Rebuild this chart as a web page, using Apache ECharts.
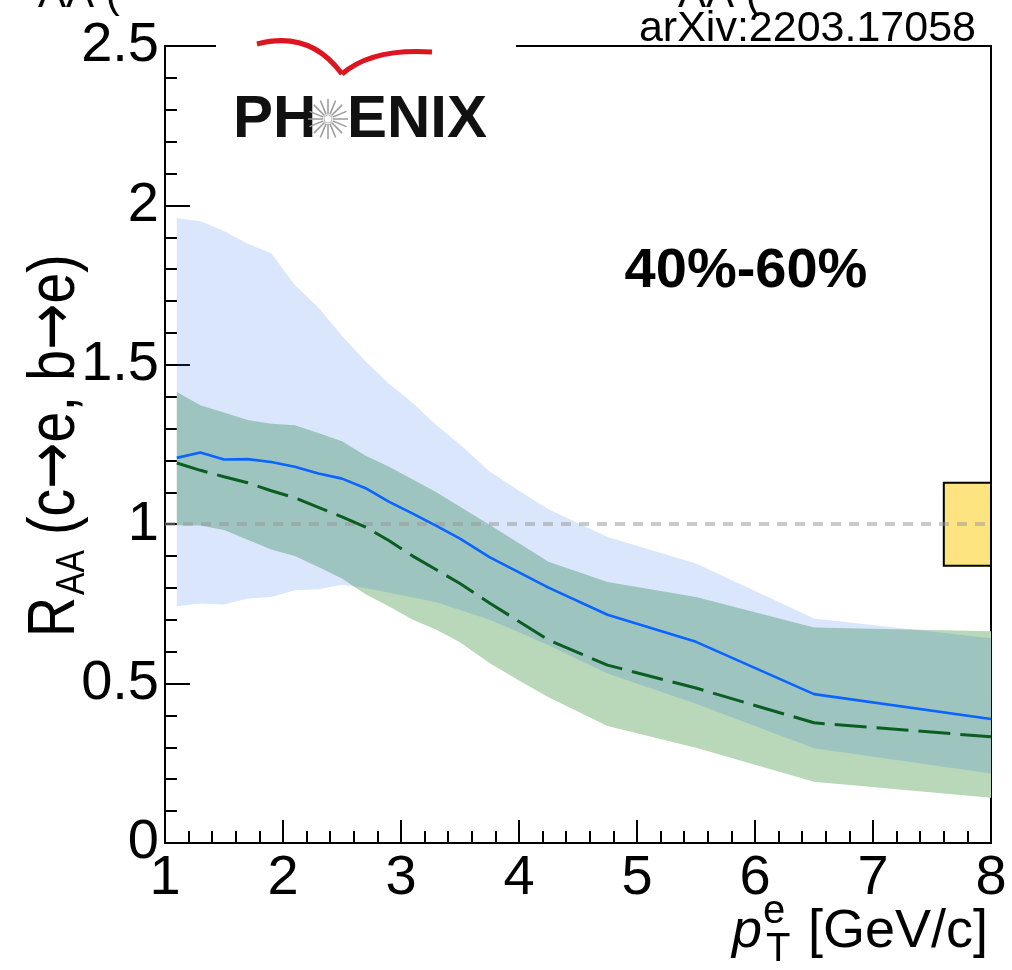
<!DOCTYPE html>
<html>
<head>
<meta charset="utf-8">
<script src="https://cdn.jsdelivr.net/npm/echarts@6/dist/echarts.min.js"></script>
<style>
  html, body { margin: 0; padding: 0; background: #fff; }
  #chart { width: 1012px; height: 970px; }
</style>
</head>
<body>
<div id="chart"></div>
<script>
// ---- data ----
const ptGrid = [1.1, 1.3, 1.5, 1.7, 1.9, 2.1, 2.3, 2.5, 2.7, 2.9, 3.1, 3.3, 3.5, 3.75, 4.0, 4.25, 4.75, 5.5, 6.5, 8.0];
const blueCentral = [1.208, 1.225, 1.203, 1.204, 1.195, 1.18, 1.159, 1.143, 1.113, 1.07, 1.033, 0.995, 0.955, 0.897, 0.849, 0.801, 0.716, 0.631, 0.467, 0.389];
const blueUpper   = [1.96, 1.95, 1.92, 1.88, 1.85, 1.75, 1.68, 1.59, 1.51, 1.44, 1.38, 1.31, 1.25, 1.165, 1.105, 1.047, 0.96, 0.877, 0.704, 0.642];
const blueLower   = [0.743, 0.751, 0.748, 0.767, 0.772, 0.793, 0.796, 0.81, 0.80, 0.785, 0.77, 0.755, 0.731, 0.70, 0.661, 0.62, 0.532, 0.437, 0.297, 0.218];
const greenCentral = [1.192, 1.169, 1.149, 1.13, 1.105, 1.083, 1.053, 1.023, 0.991, 0.948, 0.90, 0.857, 0.814, 0.753, 0.695, 0.637, 0.558, 0.486, 0.377, 0.333];
const greenUpper  = [1.415, 1.373, 1.35, 1.327, 1.315, 1.31, 1.286, 1.26, 1.215, 1.18, 1.14, 1.10, 1.055, 0.998, 0.94, 0.882, 0.819, 0.772, 0.676, 0.664];
const greenLower  = [0.997, 0.996, 0.982, 0.951, 0.921, 0.90, 0.866, 0.83, 0.78, 0.742, 0.70, 0.669, 0.63, 0.565, 0.51, 0.457, 0.367, 0.299, 0.192, 0.142];
const unityLevel = 1;
const normUnc = 0.13;
const normBoxX = [7.6, 8.0];
const xRange = [1, 8];
const yRange = [0, 2.5];
const centralityLabel = '40%-60%';
const refLabel = 'arXiv:2203.17058';

const FONT = 'Liberation Sans';

function pairs(xs, ys) { return xs.map((x, i) => [x, ys[i]]); }

function bandSeries(upper, lower, color, z) {
  return {
    type: 'custom',
    z: z,
    silent: true,
    data: [[ptGrid[0], upper[0]]],
    renderItem: function (params, api) {
      const pts = [];
      for (let i = 0; i < ptGrid.length; i++) pts.push(api.coord([ptGrid[i], upper[i]]));
      for (let i = ptGrid.length - 1; i >= 0; i--) pts.push(api.coord([ptGrid[i], lower[i]]));
      return { type: 'polygon', shape: { points: pts }, style: { fill: color } };
    }
  };
}

const starLines = [];
for (let k = 0; k < 16; k++) {
  const a = k * Math.PI / 8;
  starLines.push({ type: 'line', z: 53, shape: { x1: 328 + 5 * Math.cos(a), y1: 119 + 5 * Math.sin(a), x2: 328 + 20 * Math.cos(a), y2: 119 + 20 * Math.sin(a) }, style: { stroke: '#9a9a9a', lineWidth: 1.5 } });
}

const chart = echarts.init(document.getElementById('chart'), null, { renderer: 'canvas' });

const option = {
  backgroundColor: '#ffffff',
  animation: false,
  grid: { left: 165, right: 21, top: 46, bottom: 127, show: true, borderColor: '#000', borderWidth: 2, backgroundColor: 'transparent' },
  xAxis: {
    type: 'value', min: xRange[0], max: xRange[1], interval: 1,
    axisLine: { show: true, lineStyle: { color: '#000', width: 2 } },
    axisTick: { show: true, inside: true, length: 23, lineStyle: { color: '#000', width: 2 } },
    minorTick: { show: true, splitNumber: 5, length: 12, lineStyle: { color: '#000', width: 2 } },
    splitLine: { show: false },
    axisLabel: { color: '#000', fontFamily: FONT, fontSize: 56, margin: 8, showMinLabel: true, showMaxLabel: true }
  },
  yAxis: {
    type: 'value', min: yRange[0], max: yRange[1], interval: 0.5,
    axisLine: { show: true, lineStyle: { color: '#000', width: 2 } },
    axisTick: { show: true, inside: true, length: 25, lineStyle: { color: '#000', width: 2 } },
    minorTick: { show: true, splitNumber: 5, length: 12, lineStyle: { color: '#000', width: 2 } },
    splitLine: { show: false },
    axisLabel: { color: '#000', fontFamily: FONT, fontSize: 56, margin: 6, showMinLabel: true, showMaxLabel: true }
  },
  series: [
    bandSeries(greenUpper, greenLower, '#b9d7b9', 1),
    bandSeries(blueUpper, blueLower, 'rgba(32,108,232,0.17)', 2),
    {
      type: 'line', z: 3, silent: true, symbol: 'none',
      data: [],
      markArea: {
        silent: true,
        itemStyle: { color: '#fde480', borderColor: '#000', borderWidth: 2 },
        data: [[{ coord: [normBoxX[0], unityLevel - normUnc] }, { coord: [normBoxX[1], unityLevel + normUnc] }]]
      }
    },
    {
      type: 'line', z: 5, silent: true, symbol: 'none',
      data: pairs(ptGrid, blueCentral),
      lineStyle: { color: '#0a64ff', width: 2.6 }
    },
    {
      type: 'line', z: 6, silent: true, symbol: 'none',
      data: pairs(ptGrid, greenCentral),
      lineStyle: { color: '#0b5e22', width: 3, type: [32, 10] }
    },
    {
      type: 'line', z: 7, silent: true, symbol: 'none',
      data: [],
      markLine: {
        silent: true, symbol: 'none', label: { show: false },
        lineStyle: { color: 'rgba(150,150,150,0.5)', width: 4, type: [10, 8] },
        data: [{ yAxis: unityLevel }]
      }
    }
  ],
  graphic: [
    { type: 'text', z: 50, x: 38, y: -26, style: { text: 'AA (', font: '42px "Liberation Sans"', fill: '#000' } },
    { type: 'text', z: 50, x: 678, y: -26, style: { text: 'AA (', font: '42px "Liberation Sans"', fill: '#000' } },
    { type: 'text', z: 50, x: 976, y: 29, style: { text: refLabel, font: '43px "Liberation Sans"', fill: '#000', align: 'right', verticalAlign: 'middle' } },
    { type: 'rect', z: 50, shape: { x: 216, y: 32, width: 300, height: 118 }, style: { fill: '#fff' } },
    { type: 'text', z: 51, x: 233, y: 120, style: { text: 'PH', font: 'bold 60px "Liberation Sans"', fill: '#111', align: 'left', verticalAlign: 'middle' } },
    { type: 'text', z: 51, x: 347, y: 120, style: { text: 'ENIX', font: 'bold 60px "Liberation Sans"', fill: '#111', align: 'left', verticalAlign: 'middle' } },
    { type: 'group', z: 53, children: starLines },
    { type: 'circle', z: 54, shape: { cx: 328, cy: 119, r: 4 }, style: { fill: '#fff', stroke: '#bbb', lineWidth: 1 } },
    { type: 'bezierCurve', z: 52, shape: { x1: 257, y1: 44, cpx1: 310, cpy1: 30, x2: 342, y2: 74 }, style: { fill: null, stroke: '#dd1520', lineWidth: 5 } },
    { type: 'bezierCurve', z: 52, shape: { x1: 342, y1: 74, cpx1: 372, cpy1: 48, x2: 432, y2: 52 }, style: { fill: null, stroke: '#dd1520', lineWidth: 5 } },
    { type: 'text', z: 50, x: 746, y: 272, style: { text: centralityLabel, font: 'bold 56px "Liberation Sans"', fill: '#000', align: 'center', verticalAlign: 'middle' } },
    { type: 'text', z: 50, x: 988, y: 932, style: { text: '[GeV/c]', font: '54px "Liberation Sans"', fill: '#000', align: 'right', verticalAlign: 'middle' } },
    { type: 'text', z: 50, x: 762, y: 932, style: { text: 'p', font: 'italic 54px "Liberation Sans"', fill: '#000', align: 'right', verticalAlign: 'middle' } },
    { type: 'text', z: 50, x: 763, y: 912, style: { text: 'e', font: '40px "Liberation Sans"', fill: '#000', align: 'left', verticalAlign: 'middle' } },
    { type: 'text', z: 50, x: 766, y: 950, style: { text: 'T', font: '40px "Liberation Sans"', fill: '#000', align: 'left', verticalAlign: 'middle' } },
    {
      type: 'group', z: 50, x: 56, y: 637, rotation: Math.PI / 2, scaleX: 0.84, scaleY: 1,
      children: [
        { type: 'text', z: 50, x: 0, y: 0, style: { text: 'R', font: '66px "Liberation Sans"', fill: '#000', align: 'left', verticalAlign: 'middle' } },
        { type: 'text', z: 50, x: 50, y: 17, style: { text: 'AA', font: '40px "Liberation Sans"', fill: '#000', align: 'left', verticalAlign: 'middle' } },
        { type: 'text', z: 50, x: 103, y: 0, style: {
            text: '{n| (c}{a|\u2192}{n|e, b}{a|\u2192}{n|e)}',
            align: 'left', verticalAlign: 'middle', fill: '#000',
            rich: {
              n: { fontFamily: 'Liberation Sans', fontSize: 66, fill: '#000' },
              a: { fontFamily: 'DejaVu Sans', fontSize: 66, fill: '#000' }
            }
        } }
      ]
    }
  ]
};
chart.setOption(option);
</script>
</body>
</html>
